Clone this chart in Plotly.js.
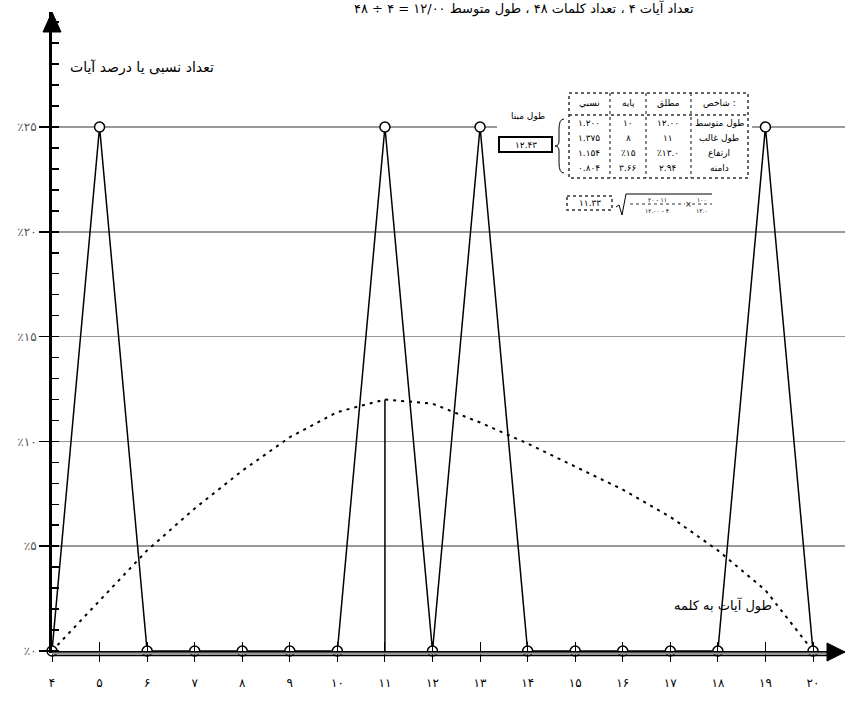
<!DOCTYPE html>
<html>
<head>
<meta charset="utf-8">
<script src="https://cdn.plot.ly/plotly-3.0.1.min.js"></script>
<style>html,body{margin:0;padding:0;background:#fff;}#chart{width:845px;height:706px;}</style>
</head>
<body>
<div id="chart"></div>
<script>
// ---------- data ----------
const categories = [4,5,6,7,8,9,10,11,12,13,14,15,16,17,18,19,20];
const xTickLabels = ['۴','۵','۶','۷','۸','۹','۱۰','۱۱','۱۲','۱۳','۱۴','۱۵','۱۶','۱۷','۱۸','۱۹','۲۰'];
const observedPct = [0,25,0,0,0,0,0,25,0,25,0,0,0,0,0,25,0];
const normalPct = [0,2.4,4.8,6.8,8.6,10.2,11.4,12.0,11.8,10.9,9.9,8.8,7.7,6.4,4.8,2.9,0];
const modeLength = 11;
const yTickVals = [0,5,10,15,20,25];
const yTickLabels = ['٪۰','٪۵','٪۱۰','٪۱۵','٪۲۰','٪۲۵'];
const titleText = 'تعداد آیات ۴ ، تعداد کلمات ۴۸ ، طول متوسط ۱۲/۰۰ = ۴ ÷ ۴۸';
const yTitle = 'تعداد نسبی یا درصد آیات';
const xTitle = 'طول آیات به کلمه';
const tableHeader = ['شاخص :','مطلق','پایه','نسبي'];
const tableRowNames = ['طول متوسط','طول غالب','ارتفاع','دامنه'];
const colAbsolute = ['۱۲.۰۰','۱۱','٪۱۳.۰','۲.۹۴'];
const colBase = ['۱۰','۸','٪۱۵','۳.۶۶'];
const colRelative = ['۱.۲۰۰','۱.۳۷۵','۱.۱۵۴','۰.۸۰۴'];
const baseLengthLabel = 'طول مبنا';
const baseLengthValue = '۱۲.۴۳';
const resultValue = '۱۱.۳۳';
const formulaParts = {num1:'۲۰ - ۱۱', den1:'۱۲.۰۰ - ۴', num2:'۱۰۰', den2:'۱۳.۰'};

// ---------- geometry helpers (pixel -> paper) ----------
const PL=52, PR=845, PT=12, PB=651;
const px = v => (v-PL)/(PR-PL);
const py = v => (PB-v)/(PB-PT);
const FONT = 'DejaVu Sans';

const modeIdx = categories.indexOf(modeLength);

const traces = [
  {x:categories, y:normalPct, mode:'lines', line:{color:'#000', width:2, dash:'3px,5px'}, cliponaxis:false, hoverinfo:'skip'},
  {x:[modeLength, modeLength], y:[0, normalPct[modeIdx]], mode:'lines', line:{color:'#000', width:1.5}, hoverinfo:'skip'},
  {x:categories, y:observedPct, mode:'lines+markers', line:{color:'#000', width:1.5},
   marker:{symbol:'circle', size:10, color:'#fff', line:{color:'#000', width:1.5}}, cliponaxis:false},
  {x:categories, y:categories.map(()=>null), xaxis:'x2', yaxis:'y', mode:'markers', showlegend:false, hoverinfo:'skip'}
];

const shapes = [];
const annotations = [];
function line(x0,y0,x1,y1,opt){ shapes.push(Object.assign({type:'line', xref:'paper', yref:'paper', x0:px(x0), y0:py(y0), x1:px(x1), y1:py(y1), line:{color:'#000', width:1}}, opt||{})); }
function rect(x0,y0,x1,y1,opt){ shapes.push(Object.assign({type:'rect', xref:'paper', yref:'paper', x0:px(x0), y0:py(y0), x1:px(x1), y1:py(y1)}, opt)); }
function path(pts, opt){ shapes.push(Object.assign({type:'path', xref:'paper', yref:'paper', path:pts}, opt)); }
function text(x,y,t,size,opt){ annotations.push(Object.assign({xref:'paper', yref:'paper', x:px(x), y:py(y), text:t, showarrow:false, xanchor:'center', yanchor:'middle', font:{family:FONT, size:size, color:'#000'}}, opt||{})); }

// x-axis double line
line(52,653.5,828,653.5,{line:{color:'#999', width:2}});
line(52,655.5,828,655.5,{line:{color:'#000', width:1.5}});
// arrows
path('M '+px(52)+' '+py(12)+' L '+px(43)+' '+py(32)+' L '+px(61)+' '+py(32)+' Z', {fillcolor:'#000', line:{color:'#000', width:1}});
path('M '+px(845)+' '+py(652)+' L '+px(827)+' '+py(643)+' L '+px(827)+' '+py(661)+' Z', {fillcolor:'#000', line:{color:'#000', width:1}});

// table background & frame
rect(497,92,752,216,{fillcolor:'#fff', line:{width:0}});
const rowYs = [123,138,153,168];
const colCenters = [719,668,628,589];
rect(569,93,748,178,{line:{color:'#333', width:1.5, dash:'dot'}});
line(569,115,748,115,{line:{color:'#333', width:1.5, dash:'dot'}});
[610,646,691].forEach(xe => line(xe,93,xe,178,{line:{color:'#333', width:1.2, dash:'dot'}}));
tableHeader.forEach((h,i)=> text(colCenters[i],103,h,9));
const cols = [tableRowNames, colAbsolute, colBase, colRelative];
cols.forEach((col,ci)=> col.forEach((v,ri)=> text(colCenters[ci], rowYs[ri], v, 9)));

// base length box and brace
text(528,116,baseLengthLabel,9);
rect(499,137,552,152,{line:{color:'#000', width:2}});
text(525.5,144.5,baseLengthValue,9);
path('M '+px(564)+' '+py(119)+' Q '+px(559)+' '+py(119)+' '+px(559)+' '+py(129)+' L '+px(559)+' '+py(141)+' Q '+px(559)+' '+py(146)+' '+px(555)+' '+py(146)+' Q '+px(559)+' '+py(146)+' '+px(559)+' '+py(151)+' L '+px(559)+' '+py(163)+' Q '+px(559)+' '+py(173)+' '+px(564)+' '+py(173), {line:{color:'#000', width:1}});

// result box and formula
rect(567,196,612,210,{line:{color:'#333', width:1.5, dash:'dot'}});
text(589.5,203,resultValue,9);
path('M '+px(616)+' '+py(207)+' L '+px(619)+' '+py(205)+' L '+px(622)+' '+py(215)+' L '+px(626)+' '+py(194)+' L '+px(712)+' '+py(194), {line:{color:'#000', width:1}});
line(630,204,685,204,{line:{color:'#333', width:1, dash:'dot'}});
line(692,204,712,204,{line:{color:'#333', width:1, dash:'dot'}});
text(657,199,formulaParts.num1,6);
text(657,210,formulaParts.den1,6);
text(688.5,204.5,'×',8);
text(702,199,formulaParts.num2,6);
text(702,210,formulaParts.den2,6);

// axis titles and chart title
text(142,67,yTitle,14);
text(723,605,xTitle,13);
text(524,9,titleText,13);

const xr = [4, 4+(PR-PL)/((813-52)/16)];
const layout = {
  width:845, height:706,
  margin:{l:PL, r:0, t:PT, b:706-PB},
  paper_bgcolor:'#fff', plot_bgcolor:'#fff',
  showlegend:false,
  xaxis:{range:xr, tickvals:categories, ticktext:xTickLabels, ticks:'outside', ticklen:9, tickwidth:1, tickcolor:'#000',
    showline:true, linecolor:'#000', linewidth:2, showgrid:false, zeroline:false, ticklabelstandoff:11,
    tickfont:{family:FONT, size:12, color:'#000'}, fixedrange:true},
  xaxis2:{overlaying:'x', anchor:'y', side:'bottom', range:xr, tickvals:categories, ticks:'inside', ticklen:9, tickwidth:1, tickcolor:'#000',
    showticklabels:false, showgrid:false, showline:false, zeroline:false},
  yaxis:{range:[0,(PB-PT)/((651-127)/25)], tickvals:yTickVals, ticktext:yTickLabels, ticks:'outside', ticklen:10, tickwidth:1.5, tickcolor:'#000',
    showline:true, linecolor:'#000', linewidth:3, showgrid:true, gridcolor:'#999', gridwidth:1.5, zeroline:false,
    tickfont:{family:FONT, size:12, color:'#555'},
    minor:{tickmode:'linear', tick0:0, dtick:1, ticks:'inside', ticklen:7, tickwidth:1.5, tickcolor:'#000', showgrid:false}},
  shapes:shapes, annotations:annotations
};
Plotly.newPlot('chart', traces, layout, {displayModeBar:false, staticPlot:true});
</script>
</body>
</html>
